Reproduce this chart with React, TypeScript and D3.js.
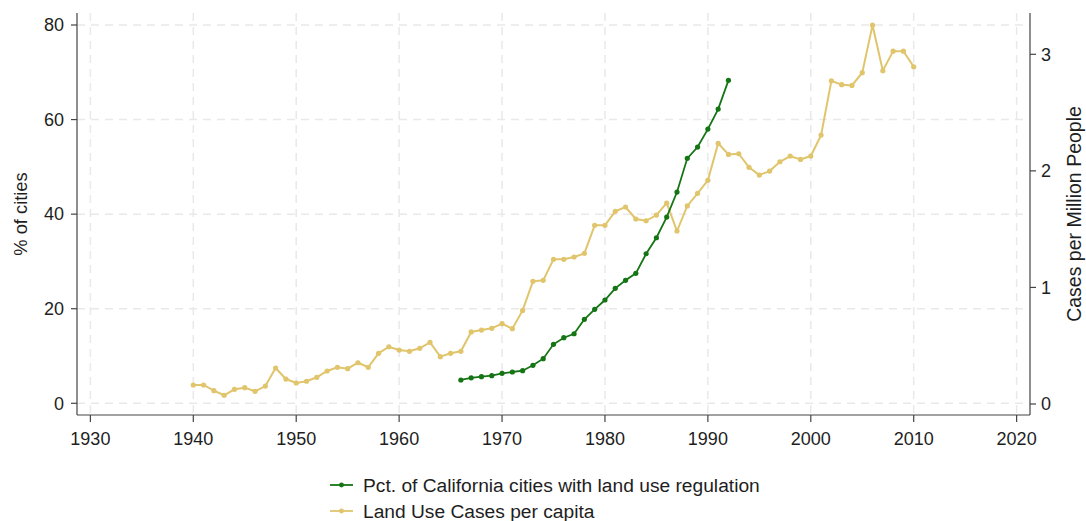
import React from "react";
import * as d3 from "d3";

const greenYears = [1966,1967,1968,1969,1970,1971,1972,1973,1974,1975,1976,1977,1978,1979,1980,1981,1982,1983,1984,1985,1986,1987,1988,1989,1990,1991,1992];
const greenValues = [4.93,5.38,5.63,5.84,6.34,6.62,6.89,8.03,9.43,12.47,13.87,14.71,17.76,19.87,21.84,24.31,26.0,27.48,31.63,35.01,39.39,44.67,51.8,54.19,57.99,62.22,68.29];

const yellowYears = d3.range(1940, 2011);
const yellowValues = [
  0.163,0.163,0.114,0.075,0.126,0.14,0.109,0.154,0.309,0.214,
  0.18,0.195,0.229,0.283,0.315,0.303,0.354,0.315,0.435,0.491,
  0.463,0.452,0.478,0.529,0.406,0.435,0.452,0.618,0.634,0.649,
  0.689,0.646,0.803,1.052,1.061,1.241,1.241,1.261,1.292,1.533,
  1.533,1.653,1.69,1.587,1.572,1.621,1.724,1.484,1.699,1.807,
  1.919,2.236,2.141,2.147,2.03,1.964,1.998,2.078,2.127,2.098,
  2.127,2.307,2.773,2.739,2.733,2.842,3.25,2.859,3.027,3.027,
  2.893
];

const xTicks = [1930,1940,1950,1960,1970,1980,1990,2000,2010,2020];
const leftTicks = [0,20,40,60,80];
const rightTicks = [0,1,2,3];
const legendLabels = ["Pct. of California cities with land use regulation", "Land Use Cases per capita"];

const GREEN = "#157515";
const YELLOW = "#e0c56c";
const FONT = "'Liberation Sans', Arial, sans-serif";

export default function App() {
  const left = 77, right = 1030, top = 13, bottom = 415;
  const x = d3.scaleLinear().domain([1928.7, 2021.3]).range([left, right]);
  const yL = d3.scaleLinear().domain([0, 80]).range([403.3, 25]);
  const yR = d3.scaleLinear().domain([0, 3]).range([404, 54.3]);

  const gLine = d3.line<number>().x((_, i) => x(greenYears[i])).y((d) => yL(d));
  const yLine = d3.line<number>().x((_, i) => x(yellowYears[i])).y((d) => yR(d));

  const axisColor = "#444";
  const gridColor = "#e9e9e9";
  const textColor = "#1e1e1e";

  return (
    <svg width={1086} height={521} style={{ position: "absolute", left: 0, top: 0, background: "#fff" }} fontFamily={FONT}>
      <rect x={0} y={0} width={1086} height={521} fill="#fff" />
      {leftTicks.map((t) => (
        <line key={"gh" + t} x1={left} x2={right} y1={yL(t)} y2={yL(t)} stroke={gridColor} strokeWidth={1.5} strokeDasharray="8,6" />
      ))}
      {xTicks.map((t) => (
        <line key={"gv" + t} x1={x(t)} x2={x(t)} y1={top} y2={bottom} stroke={gridColor} strokeWidth={1.5} strokeDasharray="8,6" />
      ))}
      <path d={yLine(yellowValues) || ""} fill="none" stroke={YELLOW} strokeWidth={2} />
      {yellowValues.map((v, i) => (
        <circle key={"yc" + i} cx={x(yellowYears[i])} cy={yR(v)} r={2.6} fill={YELLOW} />
      ))}
      <path d={gLine(greenValues) || ""} fill="none" stroke={GREEN} strokeWidth={1.8} />
      {greenValues.map((v, i) => (
        <circle key={"gc" + i} cx={x(greenYears[i])} cy={yL(v)} r={2.6} fill={GREEN} />
      ))}
      <line x1={left} x2={left} y1={top} y2={bottom} stroke={axisColor} strokeWidth={1.2} />
      <line x1={right} x2={right} y1={top} y2={bottom} stroke={axisColor} strokeWidth={1.2} />
      <line x1={left} x2={right} y1={bottom} y2={bottom} stroke={axisColor} strokeWidth={1.2} />
      {leftTicks.map((t) => (
        <g key={"lt" + t}>
          <line x1={left - 6} x2={left} y1={yL(t)} y2={yL(t)} stroke={axisColor} strokeWidth={1.2} />
          <text x={left - 13} y={yL(t)} dy="0.35em" textAnchor="end" fontSize={18} fill={textColor}>{t}</text>
        </g>
      ))}
      {rightTicks.map((t) => (
        <g key={"rt" + t}>
          <line x1={right} x2={right + 6} y1={yR(t)} y2={yR(t)} stroke={axisColor} strokeWidth={1.2} />
          <text x={right + 11} y={yR(t)} dy="0.35em" textAnchor="start" fontSize={18} fill={textColor}>{t}</text>
        </g>
      ))}
      {xTicks.map((t) => (
        <g key={"xt" + t}>
          <line x1={x(t)} x2={x(t)} y1={bottom} y2={bottom + 7} stroke={axisColor} strokeWidth={1.2} />
          <text x={x(t)} y={bottom + 30} textAnchor="middle" fontSize={18} fill={textColor}>{t}</text>
        </g>
      ))}
      <text transform={`translate(27,${(top + bottom) / 2}) rotate(-90)`} textAnchor="middle" fontSize={18.3} fill={textColor}>% of cities</text>
      <text transform={`translate(1081,${(top + bottom) / 2}) rotate(-90)`} textAnchor="middle" fontSize={19.5} fill={textColor}>Cases per Million People</text>
      {legendLabels.map((lab, i) => {
        const ly = 485 + i * 26;
        const c = i === 0 ? GREEN : YELLOW;
        return (
          <g key={"lg" + i}>
            <line x1={330} x2={353} y1={ly} y2={ly} stroke={c} strokeWidth={1.8} />
            <circle cx={341.5} cy={ly} r={2.4} fill={c} />
            <text x={363} y={ly} dy="0.35em" fontSize={19.2} fill={textColor}>{lab}</text>
          </g>
        );
      })}
    </svg>
  );
}
